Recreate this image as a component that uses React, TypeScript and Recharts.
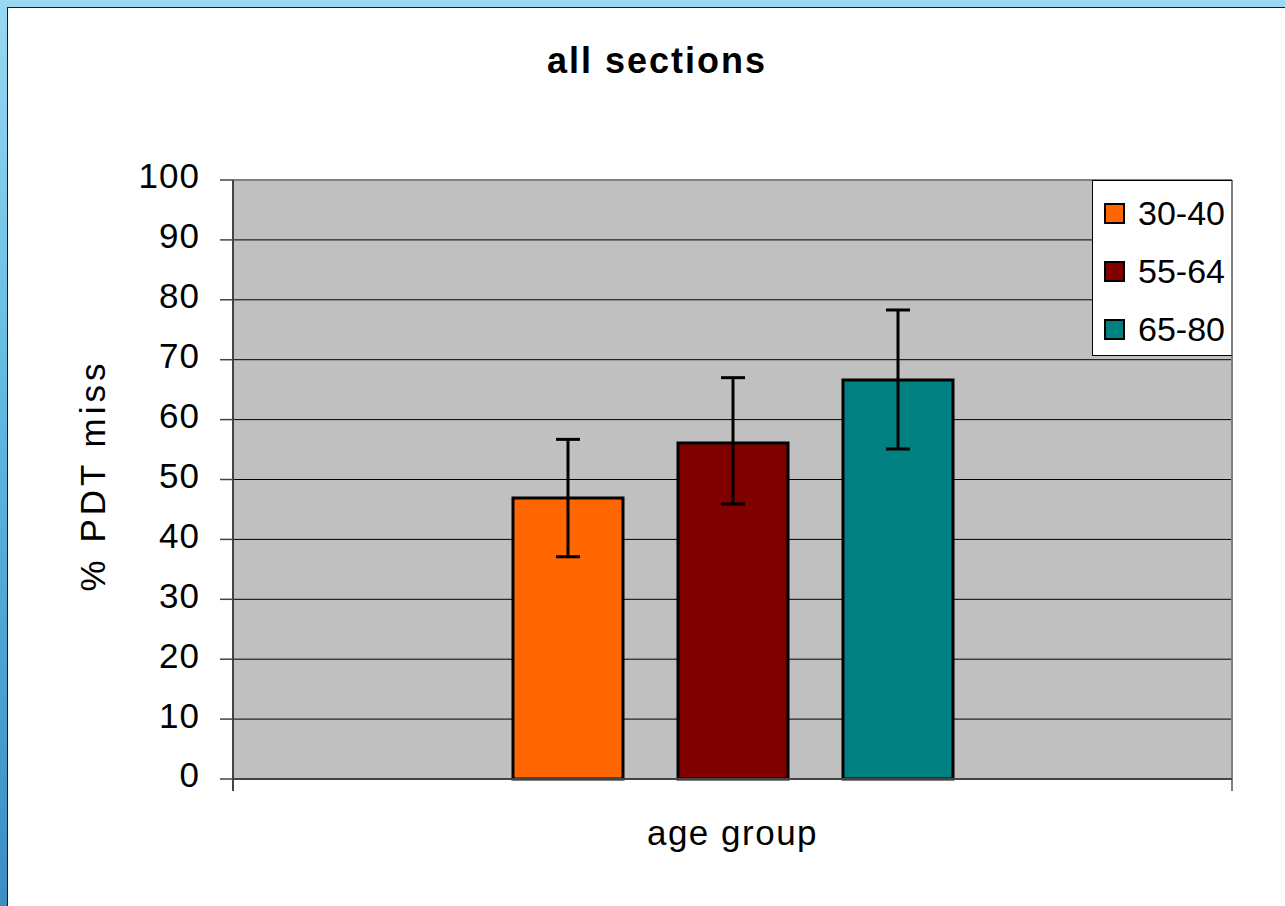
import React from 'react';
import {
    BarChart,
    Bar,
    ErrorBar,
    XAxis,
    YAxis,
    CartesianGrid,
    Legend,
    usePlotArea,
} from 'recharts';

// age groups (series)
const GROUPS = ['30-40', '55-64', '65-80'];
const COLORS = ['#FF6600', '#800000', '#008080'];
const MEANS = [46.9, 56.1, 66.6];
const LOWER = [37.1, 45.9, 55.1];
const UPPER = [56.7, 67.0, 78.3];
const CATEGORIES = ['all'];
const Y_TICKS = [0, 10, 20, 30, 40, 50, 60, 70, 80, 90, 100];

const FONT = '"Liberation Sans", Arial, sans-serif';

const chartData = CATEGORIES.map((category) => {
    const row: Record<string, any> = { category };
    GROUPS.forEach((_, i) => {
        row[`s${i}`] = MEANS[i];
        row[`e${i}`] = [MEANS[i] - LOWER[i], UPPER[i] - MEANS[i]];
    });
    return row;
});

// gray plot border on top/right and the category boundary ticks under the x axis
const PlotFrame = () => {
    const area = usePlotArea();
    if (!area) return null;
    const { x, y, width, height } = area;
    return (
        <g>
            <line x1={x} y1={y} x2={x + width} y2={y} stroke="#808080" strokeWidth={2} />
            <line x1={x + width} y1={y} x2={x + width} y2={y + height} stroke="#808080" strokeWidth={2} />
            <line x1={x} y1={y + height} x2={x} y2={y + height + 12} stroke="#444" strokeWidth={2} />
            <line x1={x + width} y1={y + height} x2={x + width} y2={y + height + 12} stroke="#808080" strokeWidth={2} />
            <text x={649} y={65} textAnchor="middle" fontFamily={FONT} fontSize={36} fontWeight="bold" letterSpacing={2} fill="#000">
                all sections
            </text>
        </g>
    );
};

const YLabel = (props: any) => {
    const vb = props.viewBox;
    const cx = vb.x + 97;
    const cy = vb.y + vb.height / 2 - 4;
    return (
        <text
            x={cx}
            y={cy}
            transform={`rotate(-90, ${cx}, ${cy})`}
            textAnchor="middle"
            fontFamily={FONT}
            fontSize={35}
            letterSpacing={4}
            fill="#000"
        >
            % PDT miss
        </text>
    );
};

const YTick = (props: any) => (
    <text
        x={props.x}
        y={props.y - 4}
        dy="0.355em"
        textAnchor="end"
        fontFamily={FONT}
        fontSize={35}
        letterSpacing={1}
        fill="#000"
    >
        {props.payload.value}
    </text>
);

const LegendBox = () => (
    <div
        style={{
            boxSizing: 'border-box',
            width: 141,
            height: 176,
            background: '#fff',
            border: '1px solid #000',
            borderRight: '2px solid #808080',
            paddingTop: 3,
            fontFamily: FONT,
        }}
    >
        {GROUPS.map((g, i) => (
            <div key={g} style={{ display: 'flex', alignItems: 'center', height: 58 }}>
                <span
                    style={{
                        display: 'inline-block',
                        boxSizing: 'border-box',
                        width: 21,
                        height: 21,
                        marginLeft: 11,
                        marginRight: 13,
                        background: COLORS[i],
                        border: '2px solid #000',
                    }}
                />
                <span style={{ fontSize: 34, color: '#000' }}>{g}</span>
            </div>
        ))}
    </div>
);

export default function App() {
    return (
        <div
            style={{
                position: 'fixed',
                left: 0,
                top: 0,
                width: 1285,
                height: 906,
                background: 'linear-gradient(180deg, #9ad8f2 0%, #5db9e0 45%, #3b8dc3 100%)',
                overflow: 'hidden',
            }}
        >
            <div
                style={{
                    position: 'absolute',
                    left: 7,
                    top: 7,
                    width: 1285,
                    height: 906,
                    background: '#fff',
                    borderLeft: '1px solid #1a1a1a',
                    borderTop: '1px solid #1a1a1a',
                }}
            >
                <BarChart
                    width={1277}
                    height={898}
                    data={chartData}
                    margin={{ top: 172, right: 53, bottom: 57, left: 0 }}
                    barSize={110}
                    barGap={55}
                >
                    <CartesianGrid vertical={false} fill="#C0C0C0" stroke="#000" strokeWidth={1} />
                    <XAxis
                        dataKey="category"
                        height={70}
                        tick={false}
                        tickLine={false}
                        axisLine={{ stroke: '#444', strokeWidth: 2 }}
                        label={{
                            value: 'age group',
                            position: 'insideBottom',
                            offset: 4,
                            fontSize: 35,
                            fontFamily: FONT,
                            letterSpacing: 1.5,
                            fill: '#000',
                        }}
                    />
                    <YAxis
                        width={225}
                        domain={[0, 100]}
                        ticks={Y_TICKS}
                        interval={0}
                        tickSize={13}
                        tickMargin={20}
                        tick={YTick}
                        tickLine={{ stroke: '#444', strokeWidth: 1.5 }}
                        axisLine={{ stroke: '#444', strokeWidth: 2 }}
                        label={{ content: YLabel }}
                    />
                    {GROUPS.map((g, i) => (
                        <Bar
                            key={g}
                            dataKey={`s${i}`}
                            name={g}
                            fill={COLORS[i]}
                            stroke="#000"
                            strokeWidth={3}
                            isAnimationActive={false}
                        >
                            <ErrorBar dataKey={`e${i}`} direction="y" width={12} stroke="#000" strokeWidth={3} />
                        </Bar>
                    ))}
                    <PlotFrame />
                    <Legend
                        layout="vertical"
                        align="center"
                        verticalAlign="middle"
                        wrapperStyle={{ left: 1084, top: 172, width: 141, height: 176 }}
                        content={() => <LegendBox />}
                    />
                </BarChart>
            </div>
        </div>
    );
}
